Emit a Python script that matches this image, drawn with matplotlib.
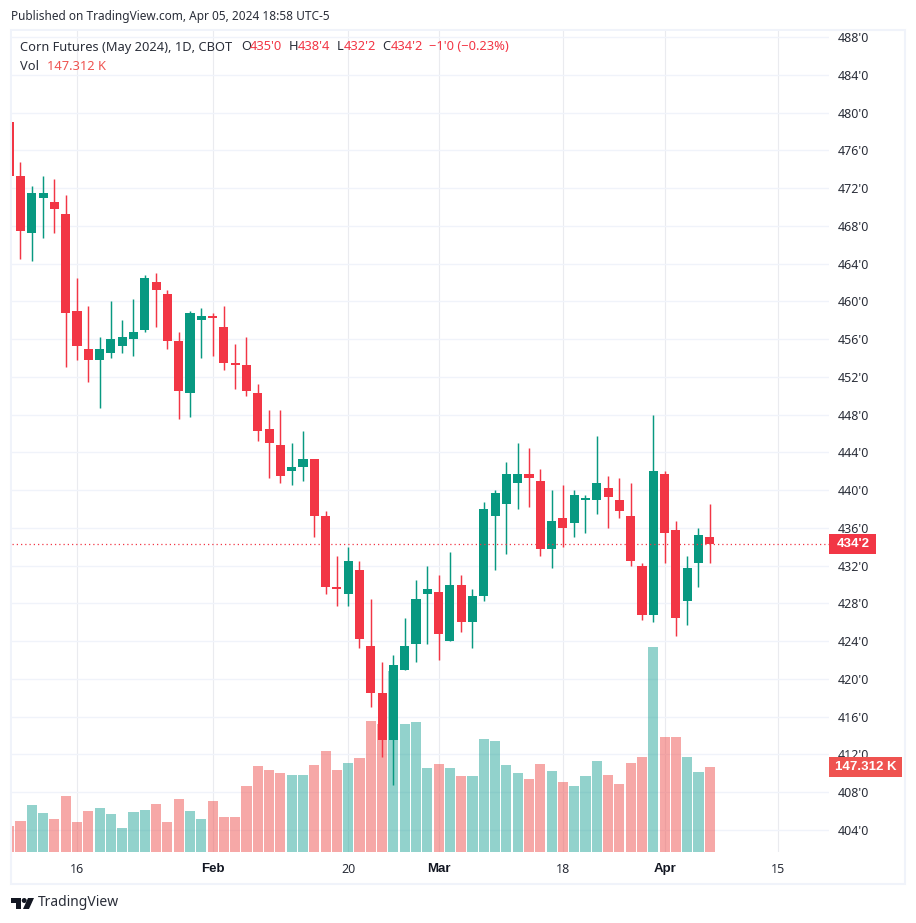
import numpy as np
import matplotlib
matplotlib.use("Agg")
import matplotlib.pyplot as plt
from matplotlib.patches import Polygon, Rectangle, Circle

W, H = 916, 923

opens = [479, 473.25, 467.25, 471, 470.5, 469.25, 459, 455, 453.75, 454.5, 455.25, 456, 457, 462, 460.75, 455.75,
         450.25, 458, 458.5, 457.25, 453.5, 453.25, 450.25, 446.5, 444.75, 442, 442.5, 443.25, 437.25, 429.75,
         429, 431.5, 423.5, 418.5, 413.5, 421, 423.75, 429, 429.25, 424, 430, 426, 428.75, 437.25, 438.5, 440.75,
         441.75, 441, 433.75, 437, 436.5, 439, 439, 440.25, 439, 437.25, 432, 426.75, 441.75, 435.75, 428.25, 432.25, 435]
highs = [479, 474.75, 472.25, 473.25, 473, 471.25, 462.5, 459.5, 456.25, 460, 458, 460.25, 462.75, 463, 461.25, 456.75,
         459, 459.25, 458.75, 459.5, 455.5, 456.25, 451.25, 448.5, 448.5, 445, 446.25, 443.25, 437.75, 433,
         434, 432.5, 428.5, 421.75, 422.5, 426.5, 430.5, 432, 431, 433.5, 431, 429.5, 438.75, 440, 443, 445,
         444.5, 442.25, 440, 440.5, 440, 439.5, 445.75, 441.5, 441.25, 440.75, 432.25, 448, 442, 436.75, 433, 436, 438.5]
lows = [473.25, 464.5, 464.25, 466.75, 467.25, 453, 453.75, 451.5, 448.75, 454, 454.5, 454.25, 456.75, 457.25, 455, 447.5,
        447.75, 454, 454.25, 452.75, 450.75, 450, 445.25, 441.25, 440.75, 440.5, 441, 435, 429, 427.75,
        427.75, 423.25, 417, 411.75, 408.75, 421, 421.75, 423.75, 422, 424, 425, 423.25, 428.25, 431.5, 433.25, 438,
        438.25, 433, 431.75, 434, 435, 435.5, 437.5, 436, 437, 432, 426.25, 426, 432.25, 424.5, 425.75, 429.75, 432.25]
closes = [473.25, 467.5, 471.5, 471.5, 469.75, 458.75, 455.25, 453.75, 455, 456, 456.25, 456.75, 462.5, 461.25, 455.75, 450.5,
          458.75, 458.5, 458.25, 453.5, 453.25, 450.5, 446.25, 445, 441.5, 442.5, 443.25, 437.25, 429.75, 429.5,
          432.5, 424.25, 418.5, 413.5, 421.5, 423.5, 428.5, 429.5, 424.75, 430, 426, 428.75, 438, 439.75, 441.75, 441.75,
          441.25, 433.75, 436.75, 436, 439.5, 439, 440.75, 439.25, 437.75, 432.5, 426.75, 442, 435.5, 426.5, 431.75, 435.25, 434.25]
volumes = [45, 53.7, 81.5, 67.6, 57.2, 97, 52, 71, 76.3, 65.9, 41.6, 69.3, 72.8, 83.2, 52, 91.8,
           71, 57.2, 88.4, 60.7, 60.7, 114.4, 149, 142, 137, 133.4, 133.4, 150.8, 175, 142,
           154.2, 163, 227, 221.8, 313.7, 221.8, 225.3, 145.6, 152.5, 145.6, 131.7, 131.7, 195.8, 192.4, 150.8, 136.9,
           126.5, 152.5, 140.4, 121.3, 114.4, 131.7, 157.7, 133.4, 117.8, 154.2, 164.6, 355.3, 199.3, 199.3, 164.6, 138.6, 147.312]
# first entry is the candle cut off by the left edge, so it sits at -1
days = np.arange(-1, 62)

date_ticks = [5, 17, 29, 37, 48, 57, 67]
date_labels = ["16", "Feb", "20", "Mar", "18", "Apr", "15"]
bold_dates = ["Feb", "Mar", "Apr"]
price_ticks = [404, 408, 412, 416, 420, 424, 428, 432, 436, 440, 444, 448, 452, 456, 460, 464, 468, 472, 476, 480, 484, 488]
price_labels = [f"{p}'0" for p in price_ticks]

last_price = 434.25
last_volume = 147.312

RED = "#f23645"
GREEN = "#089981"
VOL_RED = "#ef5350"
VOL_GREEN = "#26a69a"
GRID = "#f0f3fa"
TEXT = "#131722"
SOFT = "#2a2e39"
BOLD_FONT = ["Liberation Sans", "DejaVu Sans"]

plt.rcParams["font.family"] = ["Noto Sans", "DejaVu Sans"]

fig = plt.figure(figsize=(W / 100, H / 100), dpi=100, facecolor="white")


def fx(x):
    return x / W


def fy(y):
    return 1 - y / H


# plot area in pixels
left, right, top, bottom = 11.5, 829, 31, 852
rect = [fx(left), fy(bottom), fx(right - left), (bottom - top) / H]

ax = fig.add_axes(rect, zorder=1)
ax_vol = fig.add_axes(rect, zorder=2, sharex=ax)
ax_c = fig.add_axes(rect, zorder=3, sharex=ax)
ax_vol.patch.set_visible(False)
ax_c.patch.set_visible(False)
ax_vol.axis("off")
ax_c.axis("off")

ax.set_xlim(-0.796, 71.55)
price_lim = (401.67, 488.64)
ax.set_ylim(*price_lim)
ax_c.set_ylim(*price_lim)
ax_vol.set_ylim(0, 1423)

for s in ax.spines.values():
    s.set_visible(False)

ax.set_xticks(date_ticks)
ax.set_xticklabels(date_labels)
ax.set_yticks(price_ticks)
ax.set_yticklabels(price_labels)
ax.yaxis.tick_right()
ax.tick_params(axis="x", length=0, pad=8, labelsize=9, labelcolor=SOFT)
ax.tick_params(axis="y", length=0, pad=6.5, labelsize=9, labelcolor=SOFT)
for lab in ax.get_xticklabels():
    if lab.get_text() in bold_dates:
        lab.set_fontfamily(BOLD_FONT)
        lab.set_fontweight("bold")
        lab.set_fontsize(9.5)
        lab.set_color(TEXT)
for lab in ax.get_yticklabels():
    lab.set_verticalalignment("center_baseline")
ax.yaxis.grid(True, color=GRID, linewidth=1.0)
ax.xaxis.grid(True, color="#eaebef", linewidth=0.8)
ax.set_axisbelow(True)

opens = np.array(opens)
closes = np.array(closes)
highs = np.array(highs)
lows = np.array(lows)
volumes = np.array(volumes)

is_up = closes >= opens
colors = np.where(is_up, GREEN, RED)
vol_colors = np.where(is_up, VOL_GREEN, VOL_RED)
ax_vol.bar(days, volumes, width=0.9, color=vol_colors, alpha=0.5, linewidth=0)

ax_c.vlines(days, lows, highs, colors=colors, linewidth=1.05)
ax_c.bar(days, np.maximum(np.abs(closes - opens), 0.12), bottom=np.minimum(opens, closes),
         width=0.8, color=colors, linewidth=0)
ax_c.axhline(last_price, color=RED, linewidth=0.9, linestyle=(0, (1, 2.4)))

# last price and volume tags on the scale
tag_w = 47 / (right - left)
ax_c.add_patch(Rectangle((1, last_price - 1.06), tag_w, 2.12, transform=ax_c.get_yaxis_transform(),
                         color=RED, clip_on=False, linewidth=0))
ax_c.text(1 + 24 / (right - left), last_price, "434'2", transform=ax_c.get_yaxis_transform(),
          color="white", fontsize=9.5, fontweight="bold", family=BOLD_FONT, ha="center", va="center", clip_on=False)
vol_w = 73 / (right - left)
ax_vol.add_patch(Rectangle((1, last_volume - 16.5), vol_w, 33, transform=ax_vol.get_yaxis_transform(),
                           color=VOL_RED, clip_on=False, linewidth=0))
ax_vol.text(1 + 37 / (right - left), last_volume, "147.312 K", transform=ax_vol.get_yaxis_transform(),
            color="white", fontsize=9.5, fontweight="bold", family=BOLD_FONT, ha="center", va="center", clip_on=False)

# outer frame
fig.add_artist(Rectangle((fx(11), fy(884)), fx(905 - 11), (884 - 30) / H, transform=fig.transFigure,
                         fill=False, edgecolor=GRID, linewidth=1.5))


def label(x, y, s, color=TEXT, size=9.25, **kw):
    fig.text(fx(x), fy(y), s, color=color, fontsize=size, ha="left", va="center", **kw)


label(11, 16.5, "Published on TradingView.com, Apr 05, 2024 18:58 UTC-5", color=SOFT, size=8.55)
label(20, 47, "Corn Futures (May 2024), 1D, CBOT", color=SOFT)
label(241, 47, "O", color=SOFT)
label(250, 47, "435'0", color=RED)
label(289, 47, "H", color=SOFT)
label(298, 47, "438'4", color=RED)
label(337, 47, "L", color=SOFT)
label(344, 47, "432'2", color=RED)
label(382, 47, "C", color=SOFT)
label(391, 47, "434'2", color=RED)
label(429, 47, "\u22121'0 (\u22120.23%)", color=RED)
label(20, 66, "Vol", color=SOFT)
label(47, 66, "147.312 K", color=VOL_RED)

# logo
logo = "#131722"
fig.add_artist(Polygon([(fx(11), fy(898)), (fx(21), fy(898)), (fx(21), fy(909)), (fx(16), fy(909)),
                        (fx(16), fy(903)), (fx(11), fy(903))], closed=True, color=logo, linewidth=0,
                       transform=fig.transFigure))
fig.add_artist(Polygon([(fx(28), fy(898)), (fx(34), fy(898)), (fx(29), fy(909)), (fx(23), fy(909))],
                       closed=True, color=logo, linewidth=0, transform=fig.transFigure))
fig.add_artist(Circle((24.2, H - 900.5), 2.5, color=logo, linewidth=0,
                      transform=matplotlib.transforms.IdentityTransform()))
label(38, 903, "TradingView", color=SOFT, size=10)

fig.savefig("out.png", dpi=100)
